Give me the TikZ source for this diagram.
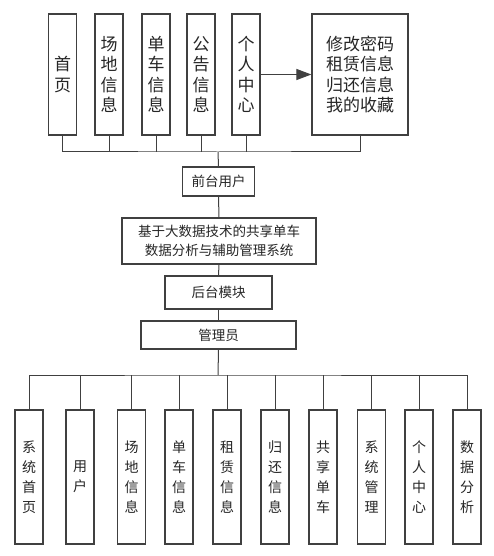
\documentclass[tikz,border=0pt]{standalone}
\usepackage{fontspec}
\newfontfamily\cjk{Noto Sans CJK SC}
\usetikzlibrary{arrows.meta}
\definecolor{ln}{HTML}{404040}
\begin{document}
\begin{tikzpicture}[x=1pt,y=-1pt,
  box/.style={draw=ln,line width=1.2pt,fill=white,inner sep=0pt,align=center,font=\cjk,text=black!85},
  topbox/.style={box,minimum width=28pt,minimum height=121pt,font=\cjk\fontsize{17}{20.5}\selectfont},
  botbox/.style={box,minimum width=28pt,minimum height=134pt,font=\cjk\fontsize{14}{20}\selectfont},
  midbox/.style={box,font=\cjk\fontsize{13.5}{19}\selectfont},
  conn/.style={draw=ln,line width=1pt}]
\useasboundingbox (0,0) rectangle (494,556);
% top row
\node[topbox] (t1) at (62.5,74.5) {首\\页};
\node[topbox] (t2) at (109,74.5) {场\\地\\信\\息};
\node[topbox] (t3) at (156,74.5) {单\\车\\信\\息};
\node[topbox] (t4) at (201,74.5) {公\\告\\信\\息};
\node[topbox] (t5) at (246,74.5) {个\\人\\中\\心};
\node[topbox,minimum width=96pt] (t6) at (360,74.5) {修改密码\\租赁信息\\归还信息\\我的收藏};
\draw[conn,-{Triangle[length=15pt,width=11pt]}] (t5.east) -- (t6.west);
\coordinate (busT) at (218,152);
% middle column
\node[midbox,minimum width=72pt,minimum height=29pt] (fu) at (218.5,181.5) {前台用户};
\node[midbox,minimum width=194pt,minimum height=46pt] (sys) at (219,241) {基于大数据技术的共享单车\\数据分析与辅助管理系统};
\node[midbox,minimum width=107pt,minimum height=33pt] (bk) at (218.5,292.5) {后台模块};
\node[midbox,minimum width=155pt,minimum height=28pt] (adm) at (218.5,335) {管理员};
\coordinate (busB) at (218,375);
% bottom row
\node[botbox] (b1) at (29,477) {系\\统\\首\\页};
\node[botbox] (b2) at (80,477) {用\\户};
\node[botbox] (b3) at (131.5,477) {场\\地\\信\\息};
\node[botbox] (b4) at (179,477) {单\\车\\信\\息};
\node[botbox] (b5) at (227,477) {租\\赁\\信\\息};
\node[botbox] (b6) at (275,477) {归\\还\\信\\息};
\node[botbox] (b7) at (323,477) {共\\享\\单\\车};
\node[botbox] (b8) at (371.5,477) {系\\统\\管\\理};
\node[botbox] (b9) at (419,477) {个\\人\\中\\心};
\node[botbox] (b10) at (467,477) {数\\据\\分\\析};
% connectors top
\draw[conn] (t1.south) |- (busT) -| (t6.south);
\foreach \n in {t2,t3,t4,t5} \draw[conn] (\n.south) -- (\n.south |- busT);
\draw[conn] (busT) -- (fu.north);
\draw[conn] (fu.south) -- (sys.north);
\draw[conn] (sys.south) -- (bk.north);
\draw[conn] (bk.south) -- (adm.north);
\draw[conn] (adm.south) -- (busB);
% connectors bottom
\draw[conn] (b1.north) |- (busB) -| (b10.north);
\foreach \n in {b2,b3,b4,b5,b6,b7,b8,b9} \draw[conn] (\n.north) -- (\n.north |- busB);
\end{tikzpicture}
\end{document}
